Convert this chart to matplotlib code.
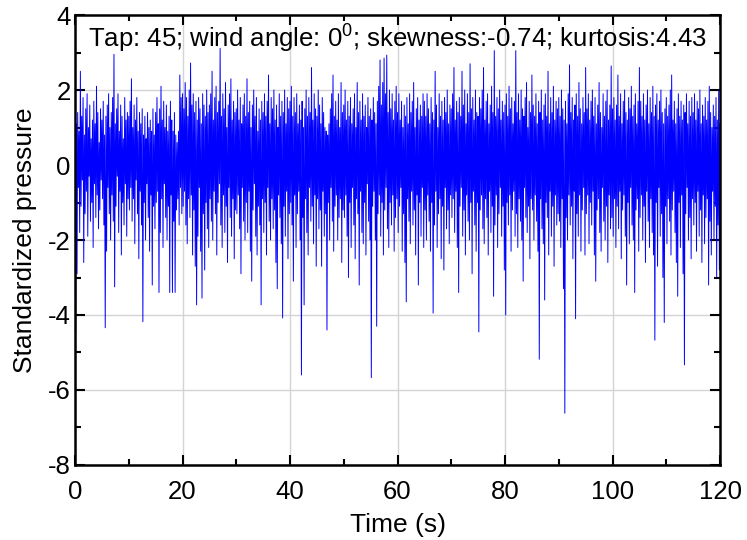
import numpy as np
import matplotlib.pyplot as plt
from matplotlib.ticker import MultipleLocator

plt.rcParams['font.family'] = ['Liberation Sans', 'DejaVu Sans']
plt.rcParams['mathtext.fontset'] = 'custom'
plt.rcParams['mathtext.rm'] = 'Liberation Sans'
plt.rcParams['mathtext.it'] = 'Liberation Sans'
plt.rcParams['axes.unicode_minus'] = False

# Sampling step of the hand-read series (s)
dt = 0.125

# Standardized pressure, one 5 s row (40 samples) per line
pressure = [
    1.6, -4.4, 1.1, -2.9, 1.4, -0.6, 0.9, -1.8, 2.5, -1.1, 1.3, -0.4, 1.8, -2.6, 0.8, -1.3, 1.5, -0.7, 1.9, -1.9,
    1.0, -0.3, 1.6, -1.5, 0.7, -1.0, 1.2, -2.2, 1.7, -0.5, 1.1, -1.4, 2.1, -0.8, 1.4, -1.7, 0.6, -1.2, 1.5, -0.4,
    1.2, -0.9, 1.7, -1.6, 0.8, -4.34, 1.3, -2.3, 1.6, -0.6, 1.9, -1.3, 1.0, -2.0, 1.4, -0.8, 1.8, -1.5, 2.95, -3.25,
    1.1, -1.1, 1.5, -0.3, 1.9, -1.8, 0.9, -0.7, 1.6, -2.4, 1.3, -1.0, 0.7, -1.6, 1.8, -0.5, 1.2, -1.9, 1.4, -0.9,
    1.3, -1.2, 1.7, -0.6, 2.3, -1.5, 1.0, -0.9, 1.6, -2.1, 1.2, -0.4, 1.8, -1.3, 0.9, -2.5, 1.4, -0.7, 1.1, -1.6,
    1.5, -4.18, 0.8, -1.0, 1.3, -2.0, 0.7, -0.5, 1.4, -1.4, 1.0, -2.3, 1.2, -0.8, 0.9, -3.2, 1.5, -1.1, 0.8, -1.7,
    1.4, -1.0, 1.8, -0.7, 1.1, -3.4, 1.5, -1.8, 2.1, -0.9, 1.2, -2.2, 1.7, -0.5, 1.0, -1.4, 1.6, -2.0, 0.9, -1.1,
    1.3, -3.4, 1.7, -0.8, 1.2, -3.4, 0.9, -1.5, 1.4, -3.4, 0.8, -1.2, 0.6, -0.9, 0.9, -1.6, 2.4, -0.6, 1.8, -1.3,
    1.9, -1.1, 1.5, -0.7, 2.2, -1.6, 1.8, -2.1, 1.3, -0.9, 2.0, -1.4, 2.72, -0.8, 1.6, -2.4, 1.9, -1.2, 1.4, -2.7,
    1.7, -3.73, 1.2, -1.9, 1.8, -0.6, 1.5, -2.3, 1.1, -3.55, 1.9, -1.3, 1.6, -2.8, 1.3, -1.0, 2.0, -1.7, 1.4, -2.2,
    1.6, -0.9, 1.9, -1.5, 2.5, -2.0, 1.2, -0.7, 1.8, -1.3, 2.1, -2.4, 1.4, -1.0, 1.7, -0.5, 3.11, -1.6, 1.3, -2.2,
    1.9, -0.8, 1.5, -1.8, 2.2, -1.1, 1.0, -2.6, 1.6, -0.6, 1.9, -1.4, 2.3, -1.9, 1.2, -0.9, 1.7, -2.5, 1.4, -1.2,
    1.5, -1.3, 2.0, -0.8, 1.2, -1.7, 1.8, -2.9, 1.1, -0.6, 1.6, -1.5, 1.9, -2.0, 1.3, -1.0, 2.3, -1.8, 1.4, -0.7,
    1.7, -2.3, 1.0, -3.1, 1.6, -1.2, 2.0, -0.5, 1.3, -1.9, 1.8, -2.4, 0.9, -1.1, 1.5, -1.6, 1.2, -3.73, 1.7, -0.9,
    1.4, -1.8, 1.9, -1.0, 1.3, -2.4, 1.7, -0.6, 2.4, -1.5, 1.1, -2.0, 1.8, -0.9, 1.5, -1.7, 2.0, -1.2, 1.2, -2.6,
    1.6, -3.3, 1.0, -0.8, 1.9, -1.4, 1.3, -2.1, 1.7, -4.08, 1.4, -1.1, 2.0, -1.9, 1.1, -0.7, 1.8, -2.5, 1.5, -1.3,
    1.7, -1.0, 2.1, -1.6, 1.3, -3.1, 1.8, -0.8, 1.4, -2.2, 1.9, -1.3, 1.1, -0.7, 1.6, -2.0, 1.2, -5.6, 1.7, -1.4,
    1.0, -3.73, 1.5, -0.9, 2.0, -1.8, 1.3, -2.4, 1.8, -0.6, 1.4, -1.5, 2.6, -1.1, 1.2, -2.1, 1.9, -0.8, 1.5, -2.7,
    1.3, -0.9, 2.0, -1.7, 1.6, -1.2, 1.1, -2.7, 1.8, -0.7, 1.4, -1.9, 1.0, -1.3, 0.9, -4.4, 0.8, -1.0, 1.1, -2.0,
    1.5, -0.6, 1.9, -1.5, 2.4, -2.3, 1.3, -1.1, 1.7, -0.8, 1.2, -2.0, 1.9, -1.4, 1.0, -0.9, 2.2, -2.6, 1.4, -1.2,
    1.6, -1.4, 2.0, -0.8, 1.2, -1.9, 1.7, -3.0, 1.3, -1.0, 1.8, -2.2, 1.1, -0.6, 1.5, -1.6, 1.9, -2.5, 1.0, -0.9,
    2.2, -1.3, 1.4, -3.2, 1.7, -0.7, 1.2, -1.8, 1.9, -2.1, 1.3, -1.0, 1.6, -2.4, 1.0, -0.5, 1.8, -1.5, 1.3, -2.0,
    1.5, -5.67, 1.2, -1.1, 1.8, -0.7, 1.4, -2.0, 1.1, -4.3, 1.7, -1.3, 2.1, -0.8, 2.8, -1.9, 1.6, -1.0, 2.2, -2.4,
    2.85, -1.2, 1.9, -0.6, 2.93, -1.7, 1.4, -2.2, 2.0, -1.0, 1.5, -1.6, 1.9, -0.8, 1.2, -2.3, 1.7, -1.4, 2.1, -0.9,
    1.4, -1.8, 1.9, -1.1, 1.2, -0.6, 1.7, -2.3, 1.0, -1.3, 1.6, -2.6, 1.3, -3.65, 1.8, -0.9, 1.1, -1.5, 1.9, -2.1,
    1.4, -0.7, 1.7, -1.6, 2.2, -1.2, 1.0, -2.4, 1.5, -0.8, 1.8, -3.2, 1.2, -1.0, 1.6, -1.9, 1.3, -0.6, 1.9, -2.2,
    1.7, -1.2, 1.3, -2.0, 1.9, -0.8, 1.5, -1.5, 1.1, -2.3, 1.8, -1.0, 1.4, -3.95, 1.2, -1.6, 2.5, -0.7, 1.6, -2.2,
    1.0, -1.3, 1.9, -0.9, 1.3, -2.5, 1.7, -1.1, 1.2, -2.8, 1.8, -0.6, 1.4, -1.7, 2.0, -1.2, 1.1, -2.1, 1.6, -0.8,
    1.5, -1.4, 1.9, -0.9, 2.6, -1.8, 1.2, -0.7, 1.7, -2.2, 1.4, -3.4, 1.8, -1.1, 1.3, -0.6, 2.5, -1.9, 1.6, -1.2,
    2.0, -2.4, 1.1, -0.8, 1.9, -1.5, 1.4, -2.0, 2.7, -1.0, 1.5, -2.9, 1.8, -0.7, 1.2, -1.6, 2.0, -2.3, 1.4, -1.0,
    1.3, -4.45, 1.8, -1.2, 1.5, -0.8, 2.0, -1.7, 2.6, -2.1, 1.2, -0.9, 1.7, -1.4, 1.9, -2.4, 1.1, -0.7, 1.6, -1.8,
    2.1, -1.1, 1.4, -3.5, 3.05, -1.6, 1.3, -0.8, 1.8, -2.2, 1.5, -1.3, 2.0, -0.6, 1.2, -1.9, 1.7, -1.1, 1.4, -2.8,
    1.6, -4.0, 1.9, -1.0, 1.3, -1.6, 2.1, -0.8, 1.5, -2.3, 1.8, -1.2, 1.1, -0.7, 1.7, -1.9, 3.05, -1.3, 1.4, -2.2,
    1.9, -0.9, 1.2, -1.5, 2.0, -2.0, 1.5, -3.1, 1.3, -0.6, 1.8, -1.4, 2.2, -1.8, 1.0, -1.1, 1.7, -2.5, 1.4, -0.9,
    2.4, -1.2, 1.6, -2.0, 1.3, -0.8, 1.9, -1.5, 1.1, -2.3, 1.7, -5.18, 1.4, -0.9, 2.0, -1.7, 1.2, -2.1, 1.6, -3.6,
    1.9, -1.0, 1.3, -1.4, 2.5, -2.4, 1.1, -0.7, 1.8, -1.9, 1.4, -1.1, 2.1, -2.7, 1.2, -0.8, 1.7, -1.6, 1.5, -1.3,
    1.8, -1.5, 1.3, -2.2, 2.0, -0.9, 1.5, -3.3, 1.2, -6.62, 1.7, -1.4, 1.1, -2.0, 1.9, -0.8, 2.67, -1.6, 1.4, -1.1,
    1.8, -2.5, 1.2, -0.7, 1.6, -4.1, 1.9, -1.3, 1.3, -1.9, 2.2, -0.8, 1.5, -2.3, 1.1, -1.2, 1.8, -0.6, 1.4, -2.4,
    2.6, -1.3, 1.5, -0.8, 1.9, -2.1, 1.2, -1.0, 1.7, -1.6, 2.0, -0.7, 1.3, -2.4, 1.8, -3.1, 1.1, -1.2, 1.6, -0.9,
    2.2, -1.8, 1.4, -2.3, 1.0, -0.6, 1.9, -1.5, 1.3, -2.0, 1.7, -1.1, 2.0, -2.6, 1.2, -0.8, 1.6, -1.7, 2.64, -1.4,
    1.5, -1.9, 1.8, -0.9, 1.2, -2.2, 1.6, -1.1, 2.4, -1.7, 1.3, -0.7, 1.9, -2.5, 1.1, -1.2, 1.7, -0.8, 2.0, -1.9,
    1.4, -3.2, 1.2, -1.0, 1.8, -2.1, 1.5, -0.6, 2.1, -1.6, 1.3, -2.0, 1.6, -3.4, 1.9, -1.2, 1.1, -0.9, 1.7, -2.3,
    2.6, -1.4, 1.7, -0.8, 1.3, -2.0, 1.9, -1.1, 1.2, -2.6, 1.6, -0.7, 2.0, -1.5, 1.1, -2.2, 1.8, -0.9, 1.4, -1.8,
    2.1, -2.4, 1.3, -4.67, 1.6, -1.0, 1.9, -2.7, 1.2, -0.6, 1.7, -1.9, 2.0, -1.3, 1.4, -3.0, 1.1, -4.2, 1.5, -1.1,
    1.8, -2.1, 1.3, -0.9, 1.6, -1.5, 2.0, -2.4, 2.4, -1.2, 1.2, -0.7, 1.7, -1.8, 1.1, -2.6, 1.5, -3.5, 1.9, -1.0,
    1.3, -2.2, 1.7, -0.8, 1.2, -2.9, 1.6, -5.33, 1.4, -1.3, 1.9, -0.6, 1.1, -2.0, 1.7, -1.4, 1.3, -2.5, 1.8, -0.9,
    1.4, -1.6, 1.9, -1.0, 1.2, -2.3, 1.7, -0.7, 1.5, -1.9, 2.0, -1.2, 1.1, -2.6, 1.6, -0.8, 1.3, -2.1, 1.8, -1.4,
    1.2, -0.9, 1.7, -3.2, 2.1, -1.5, 1.4, -2.4, 1.0, -0.7, 1.6, -2.0, 1.3, -1.1, 1.8, -3.0, 1.2, -1.6, 2.0, -2.8,
    1.1,
]
time = np.arange(len(pressure)) * dt

label = "Tap: 45; wind angle: 0$^{0}$; skewness:-0.74; kurtosis:4.43"

fig = plt.figure(figsize=(7.47, 5.40), dpi=100)
ax = fig.add_axes([0.1004, 0.1389, 0.8635, 0.8333])

ax.plot(time, pressure, color='blue', linewidth=0.7)

ax.set_xlim(0, 120)
ax.set_ylim(-8, 4)
ax.xaxis.set_major_locator(MultipleLocator(20))
ax.xaxis.set_minor_locator(MultipleLocator(10))
ax.yaxis.set_major_locator(MultipleLocator(2))
ax.yaxis.set_minor_locator(MultipleLocator(1))
ax.grid(True, which='major', color='#d4d4d4', linewidth=1.0)
ax.set_axisbelow(True)

ax.tick_params(which='both', direction='in', top=True, right=True,
               width=1.5, labelsize=18.5)
ax.tick_params(axis='x', which='both', pad=11)
ax.tick_params(axis='y', which='both', pad=3)
ax.tick_params(which='major', length=7)
ax.tick_params(which='minor', length=4)
for sp in ax.spines.values():
    sp.set_linewidth(1.8)

ax.set_xlabel("Time (s)", fontsize=19, labelpad=6)
ax.set_ylabel("Standardized pressure", fontsize=19, labelpad=8)

ax.text(0.5, 0.9267, label, transform=ax.transAxes, ha='center', va='baseline',
        fontsize=18.5)

fig.savefig("out.png", dpi=100)
